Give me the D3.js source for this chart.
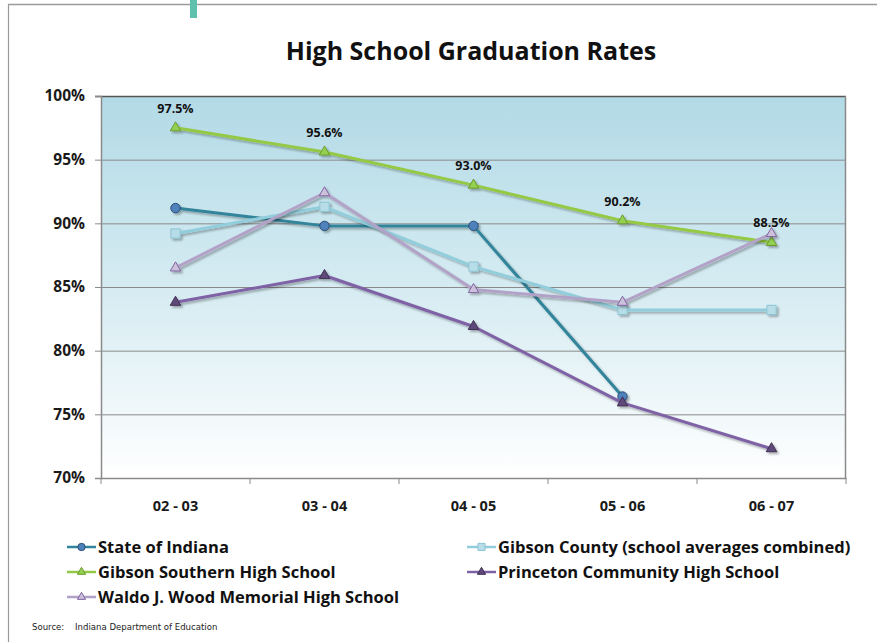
<!DOCTYPE html>
<html lang="en">
<head>
    <meta charset="UTF-8">
    <title>High School Graduation Rates</title>
    <style>
        body {
            margin: 0;
            padding: 0;
            background-color: #fff;
            font-family: 'Open Sans', 'Liberation Sans', sans-serif;
        }
        svg { display: block; }
        .tick text { font-weight: bold; fill: #1a1a1a; }
    </style>
    <script src="https://d3js.org/d3.v7.min.js"></script>
</head>
<body>
<div id="chart"></div>
<script>
    // data
    const years = ["02 - 03", "03 - 04", "04 - 05", "05 - 06", "06 - 07"];
    const stateOfIndiana = [91.2, 89.8, 89.8, 76.4, null];
    const gibsonCounty = [89.2, 91.3, 86.6, 83.2, 83.2];
    const gibsonSouthern = [97.5, 95.6, 93.0, 90.2, 88.5];
    const princeton = [83.8, 85.9, 81.9, 75.9, 72.3];
    const waldoWood = [86.5, 92.4, 84.8, 83.8, 89.2];
    const yTicks = [70, 75, 80, 85, 90, 95, 100];

    const series = [
        {name: "State of Indiana", values: stateOfIndiana, line: "#31849b", fill: "#4f81bd", stroke: "#2c4d75", symbol: d3.symbolCircle, size: 70},
        {name: "Gibson County (school averages combined)", values: gibsonCounty, line: "#92cddc", fill: "#b7dee8", stroke: "#8cc4d2", symbol: d3.symbolSquare, size: 85},
        {name: "Gibson Southern High School", values: gibsonSouthern, line: "#94c945", fill: "#92d050", stroke: "#6e9a30", symbol: d3.symbolTriangle, size: 48},
        {name: "Princeton Community High School", values: princeton, line: "#7f62a5", fill: "#5f497a", stroke: "#403152", symbol: d3.symbolTriangle, size: 48},
        {name: "Waldo J. Wood Memorial High School", values: waldoWood, line: "#b3a2c7", fill: "#ccc0da", stroke: "#8064a2", symbol: d3.symbolTriangle, size: 48}
    ];

    const width = 877, height = 642;
    const margin = {top: 96, right: 31, bottom: 164, left: 101};
    const plotW = width - margin.left - margin.right;
    const plotH = height - margin.top - margin.bottom;

    const svg = d3.select("#chart").append("svg")
        .attr("width", width)
        .attr("height", height);

    const defs = svg.append("defs");
    const grad = defs.append("linearGradient")
        .attr("id", "bg").attr("x1", 0).attr("y1", 0).attr("x2", 0).attr("y2", 1);
    grad.append("stop").attr("offset", "0%").attr("stop-color", "#b2dae6");
    grad.append("stop").attr("offset", "55%").attr("stop-color", "#d9edf3");
    grad.append("stop").attr("offset", "100%").attr("stop-color", "#ffffff");

    const shadow = defs.append("filter").attr("id", "shadow")
        .attr("x", "-10%").attr("y", "-10%").attr("width", "130%").attr("height", "130%");
    shadow.append("feDropShadow")
        .attr("dx", 2).attr("dy", 2).attr("stdDeviation", 1.2)
        .attr("flood-color", "#000").attr("flood-opacity", 0.3);

    // outer frame of the slide
    svg.append("line").attr("x1", 8).attr("x2", width).attr("y1", 4.5).attr("y2", 4.5)
        .attr("stroke", "#9a9a9a").attr("stroke-width", 1.5);
    svg.append("line").attr("x1", 8.5).attr("x2", 8.5).attr("y1", 4).attr("y2", height)
        .attr("stroke", "#9a9a9a").attr("stroke-width", 1.2);
    svg.append("rect").attr("x", 190).attr("y", 0).attr("width", 7).attr("height", 18)
        .attr("fill", "#5fc0ae");

    svg.append("text")
        .attr("x", 471).attr("y", 60)
        .attr("text-anchor", "middle")
        .attr("font-size", 25)
        .attr("font-weight", "bold")
        .attr("fill", "#111")
        .text("High School Graduation Rates");

    const g = svg.append("g").attr("transform", `translate(${margin.left},${margin.top})`);

    const x = d3.scaleBand().domain(years).range([0, plotW]);
    const y = d3.scaleLinear().domain([70, 100]).range([plotH, 0]);
    const cx = d => x(d) + x.bandwidth() / 2;

    g.append("rect").attr("width", plotW).attr("height", plotH).attr("fill", "url(#bg)");

    // gridlines
    g.selectAll(".grid").data(yTicks.filter(t => t > 70 && t < 100)).enter().append("line")
        .attr("class", "grid")
        .attr("x1", 0).attr("x2", plotW)
        .attr("y1", d => y(d) + 0.5).attr("y2", d => y(d) + 0.5)
        .attr("stroke", "#8a8a8a").attr("stroke-width", 1);

    g.append("line").attr("x1", -6).attr("x2", plotW).attr("y1", 0.5).attr("y2", 0.5)
        .attr("stroke", "#555").attr("stroke-width", 1.3);
    g.append("line").attr("x1", plotW - 0.5).attr("x2", plotW - 0.5).attr("y1", 0).attr("y2", plotH)
        .attr("stroke", "#8a8a8a").attr("stroke-width", 1.5);

    const yAxis = g.append("g")
        .call(d3.axisLeft(y).tickValues(yTicks).tickSize(6).tickPadding(10).tickFormat(d => d + "%"));
    yAxis.select(".domain").attr("stroke", "#8a8a8a").attr("stroke-width", 1.5);
    yAxis.selectAll(".tick line").attr("stroke", "#8a8a8a");
    yAxis.selectAll(".tick text").attr("font-size", 15.5).attr("font-family", "'Open Sans', sans-serif");

    const xAxis = g.append("g").attr("transform", `translate(0,${plotH})`)
        .call(d3.axisBottom(x).tickSize(0).tickPadding(23));
    xAxis.select(".domain").attr("stroke", "#8a8a8a").attr("stroke-width", 1.5);
    xAxis.selectAll(".tick text").attr("font-size", 14.5).attr("font-family", "'Open Sans', sans-serif");

    // ticks between categories
    const bounds = years.map(d => x(d)).concat([plotW]);
    g.selectAll(".xtick").data(bounds).enter().append("line")
        .attr("x1", d => d).attr("x2", d => d)
        .attr("y1", plotH).attr("y2", plotH + 6)
        .attr("stroke", "#8a8a8a").attr("stroke-width", 1);

    const line = d3.line()
        .defined(d => d.v != null)
        .x(d => cx(d.year))
        .y(d => y(d.v));

    series.forEach(s => {
        const pts = s.values.map((v, i) => ({year: years[i], v: v}));
        const sg = g.append("g").attr("filter", "url(#shadow)");
        sg.append("path")
            .datum(pts)
            .attr("d", line)
            .attr("fill", "none")
            .attr("stroke", s.line)
            .attr("stroke-width", 3)
            .attr("stroke-linejoin", "round");
        sg.selectAll(".pt").data(pts.filter(d => d.v != null)).enter().append("path")
            .attr("transform", d => `translate(${cx(d.year)},${y(d.v)})`)
            .attr("d", d3.symbol().type(s.symbol).size(s.size))
            .attr("fill", s.fill)
            .attr("stroke", s.stroke)
            .attr("stroke-width", 1);
    });

    // data labels on Gibson Southern
    g.selectAll(".lbl").data(gibsonSouthern).enter().append("text")
        .attr("x", (d, i) => cx(years[i]))
        .attr("y", d => y(d) - 15)
        .attr("text-anchor", "middle")
        .attr("font-size", 12.5)
        .attr("font-weight", "bold")
        .attr("fill", "#111")
        .text(d => d.toFixed(1) + "%");

    // legend
    const legendPos = [
        {x: 67, y: 547}, {x: 467, y: 547},
        {x: 67, y: 572}, {x: 467, y: 572},
        {x: 67, y: 597}
    ];
    series.forEach((s, i) => {
        const p = legendPos[i];
        const lg = svg.append("g").attr("transform", `translate(${p.x},${p.y})`);
        lg.append("line").attr("x1", 0).attr("x2", 29).attr("y1", 0).attr("y2", 0)
            .attr("stroke", s.line).attr("stroke-width", 2.5);
        lg.append("path").attr("transform", "translate(14.5,0)")
            .attr("d", d3.symbol().type(s.symbol).size(s.size * 0.6))
            .attr("fill", s.fill).attr("stroke", s.stroke).attr("stroke-width", 1);
        lg.append("text").attr("x", 31).attr("y", 0).attr("dy", "0.36em")
            .attr("font-size", 16.5).attr("font-weight", "bold").attr("fill", "#111")
            .text(s.name);
    });

    svg.append("text")
        .attr("x", 32).attr("y", 630)
        .attr("font-size", 9.5)
        .attr("font-family", "'Liberation Sans Narrow', 'DejaVu Sans Condensed', sans-serif")
        .attr("fill", "#222")
        .attr("xml:space", "preserve")
        .text("Source:    Indiana Department of Education");
</script>
</body>
</html>
